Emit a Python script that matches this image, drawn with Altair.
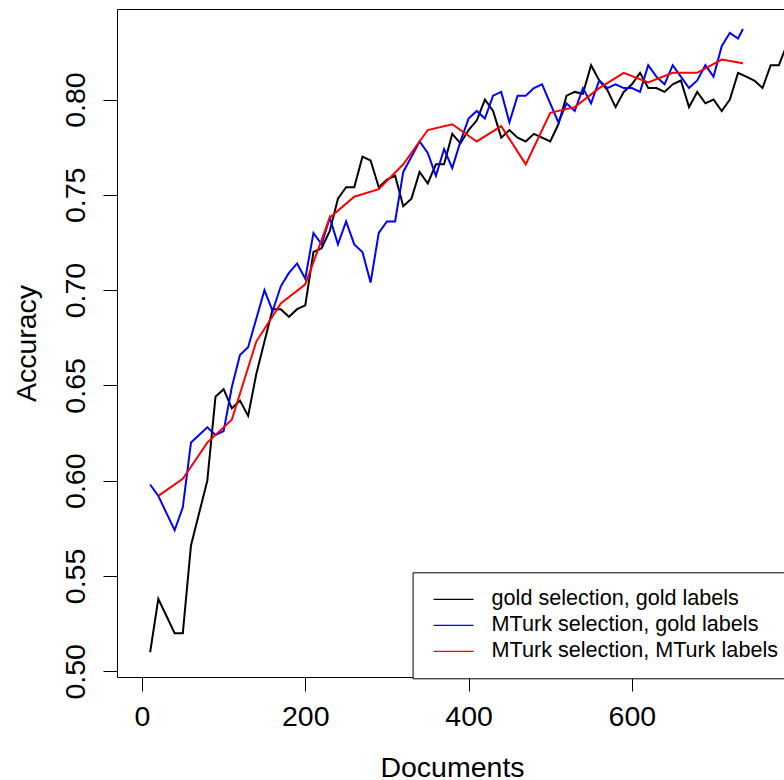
import altair as alt
import pandas as pd

series_names = [
    "gold selection, gold labels",
    "MTurk selection, gold labels",
    "MTurk selection, MTurk labels",
]
series_colors = ["#000000", "#0000ff", "#ff0000"]

# gold selection, gold labels (black)
black_docs = [10, 20, 30, 40, 50, 60, 70, 80, 90, 100, 110, 120, 130, 140, 150,
              160, 170, 180, 190, 200, 210, 220, 230, 240, 250, 260, 270, 280, 290, 300,
              310, 320, 330, 340, 350, 360, 370, 380, 390, 400, 410, 420, 430, 440, 450,
              460, 470, 480, 490, 500, 510, 520, 530, 540, 550, 560, 570, 580, 590, 600,
              610, 620, 630, 640, 650, 660, 670, 680, 690, 700, 710, 720, 730, 740, 750,
              760, 770, 780, 790]
black_acc = [0.510, 0.538, 0.529, 0.520, 0.520, 0.566, 0.583, 0.600, 0.644, 0.648,
             0.638, 0.642, 0.634, 0.656, 0.673, 0.690, 0.690, 0.686, 0.690, 0.692,
             0.720, 0.722, 0.731, 0.748, 0.754, 0.754, 0.770, 0.768, 0.754, 0.758,
             0.760, 0.744, 0.748, 0.762, 0.756, 0.766, 0.766, 0.782, 0.777, 0.784,
             0.789, 0.800, 0.794, 0.780, 0.784, 0.780, 0.778, 0.782, 0.780, 0.778,
             0.787, 0.802, 0.804, 0.803, 0.818, 0.810, 0.805, 0.796, 0.804, 0.808,
             0.814, 0.806, 0.806, 0.804, 0.808, 0.810, 0.796, 0.804, 0.798, 0.800,
             0.794, 0.800, 0.814, 0.812, 0.810, 0.806, 0.818, 0.818, 0.829]

# MTurk selection, gold labels (blue)
blue_docs = [10, 20, 30, 40, 50, 60, 70, 80, 90, 100, 110, 120, 130, 140, 150,
             160, 170, 180, 190, 200, 210, 220, 230, 240, 250, 260, 270, 280, 290, 300,
             310, 320, 330, 340, 350, 360, 370, 380, 390, 400, 410, 420, 430, 440, 450,
             460, 470, 480, 490, 500, 510, 520, 530, 540, 550, 560, 570, 580, 590, 600,
             610, 620, 630, 640, 650, 660, 670, 680, 690, 700, 710, 720, 730, 736]
blue_acc = [0.598, 0.592, 0.583, 0.574, 0.586, 0.620, 0.624, 0.628, 0.624, 0.626,
            0.649, 0.666, 0.670, 0.685, 0.700, 0.689, 0.702, 0.709, 0.714, 0.706,
            0.730, 0.724, 0.738, 0.724, 0.736, 0.724, 0.720, 0.704, 0.730, 0.736,
            0.736, 0.762, 0.770, 0.778, 0.772, 0.760, 0.774, 0.764, 0.778, 0.790,
            0.794, 0.790, 0.802, 0.804, 0.788, 0.802, 0.802, 0.806, 0.808, 0.798,
            0.788, 0.798, 0.794, 0.806, 0.798, 0.810, 0.806, 0.808, 0.806, 0.806,
            0.804, 0.818, 0.812, 0.808, 0.818, 0.812, 0.806, 0.810, 0.818, 0.812,
            0.828, 0.835, 0.832, 0.837]

# MTurk selection, MTurk labels (red)
red_docs = [20, 50, 80, 110, 140, 170, 200, 230, 260, 290, 320, 350, 380, 410,
            440, 470, 500, 530, 560, 590, 620, 650, 680, 710, 736]
red_acc = [0.592, 0.601, 0.620, 0.632, 0.673, 0.693, 0.703, 0.738, 0.749, 0.753,
           0.766, 0.784, 0.787, 0.778, 0.786, 0.766, 0.793, 0.796, 0.806, 0.814,
           0.809, 0.814, 0.814, 0.821, 0.819]

x_ticks = [0, 200, 400, 600, 800]
y_ticks = [0.50, 0.55, 0.60, 0.65, 0.70, 0.75, 0.80]

FONT = "Liberation Sans"


def frame(name, docs, acc):
    return pd.DataFrame({"Documents": docs, "Accuracy": acc, "series": name})


dfs = [frame(series_names[0], black_docs, black_acc),
       frame(series_names[1], blue_docs, blue_acc),
       frame(series_names[2], red_docs, red_acc)]

x_scale = alt.Scale(domain=[-30.6, 786.3], nice=False, zero=False)
y_scale = alt.Scale(domain=[0.497, 0.8475], nice=False, zero=False)

y_enc = alt.Y(
    "Accuracy:Q",
    scale=y_scale,
    axis=alt.Axis(
        values=y_ticks, format=".2f", title="Accuracy",
        labelAngle=270, labelAlign="center", labelBaseline="alphabetic",
        labelPadding=19, labelFont=FONT, labelFontSize=28.5, labelColor="black",
        tickSize=14, tickColor="black", tickWidth=1,
        domain=True, domainColor="black", domainWidth=1, grid=False,
        titleFont=FONT, titleFontSize=28.5, titleFontWeight="normal", titleColor="black",
        titleAngle=270, titleAlign="center", titleBaseline="alphabetic",
        titleX=-82, titleY=334,
    ),
)

color_enc = alt.Color(
    "series:N",
    scale=alt.Scale(domain=series_names, range=series_colors),
    legend=alt.Legend(
        title=None, orient="none", legendX=295.6, legendY=563.3, direction="vertical",
        symbolType="M-2,0H2", symbolSize=400, symbolStrokeWidth=1.3, symbolOffset=14,
        labelFont=FONT, labelFontSize=21.6, labelOffset=27, labelLimit=1000,
        labelColor="black", padding=16, rowPadding=4,
        strokeColor="black", fillColor="white", cornerRadius=0,
    ),
)

x_bottom = alt.X(
    "Documents:Q",
    scale=x_scale,
    axis=alt.Axis(
        orient="bottom", values=x_ticks, format="d", title="Documents",
        labelFont=FONT, labelFontSize=28.5, labelColor="black", labelPadding=11,
        labelFlush=False, labelOverlap=False,
        tickSize=14, tickColor="black", tickWidth=1,
        domain=True, domainColor="black", domainWidth=1, grid=False,
        titleFont=FONT, titleFontSize=28.5, titleFontWeight="normal", titleColor="black",
        titleX=335, titleY=99, titleAlign="center", titleBaseline="alphabetic",
    ),
)
x_top = alt.X(
    "Documents:Q",
    scale=x_scale,
    axis=alt.Axis(
        orient="top", labels=False, ticks=False, title=None, grid=False,
        domain=True, domainColor="black", domainWidth=1,
    ),
)
x_none = alt.X("Documents:Q", scale=x_scale, axis=None)

layers = []
for df, xenc in zip(dfs, [x_bottom, x_top, x_none]):
    layers.append(
        alt.Chart(df)
        .mark_line(strokeWidth=2, clip=True)
        .encode(x=xenc, y=y_enc, color=color_enc)
    )

chart = (
    alt.layer(*layers)
    .resolve_axis(x="independent")
    .properties(
        width=667,
        height=668,
        padding={"left": 117, "top": 9, "right": 0, "bottom": 103},
        autosize=alt.AutoSizeParams(type="none"),
        background="white",
    )
    .configure_view(stroke=None)
)

chart.save("out.html", embed_options={"renderer": "svg", "actions": False})
